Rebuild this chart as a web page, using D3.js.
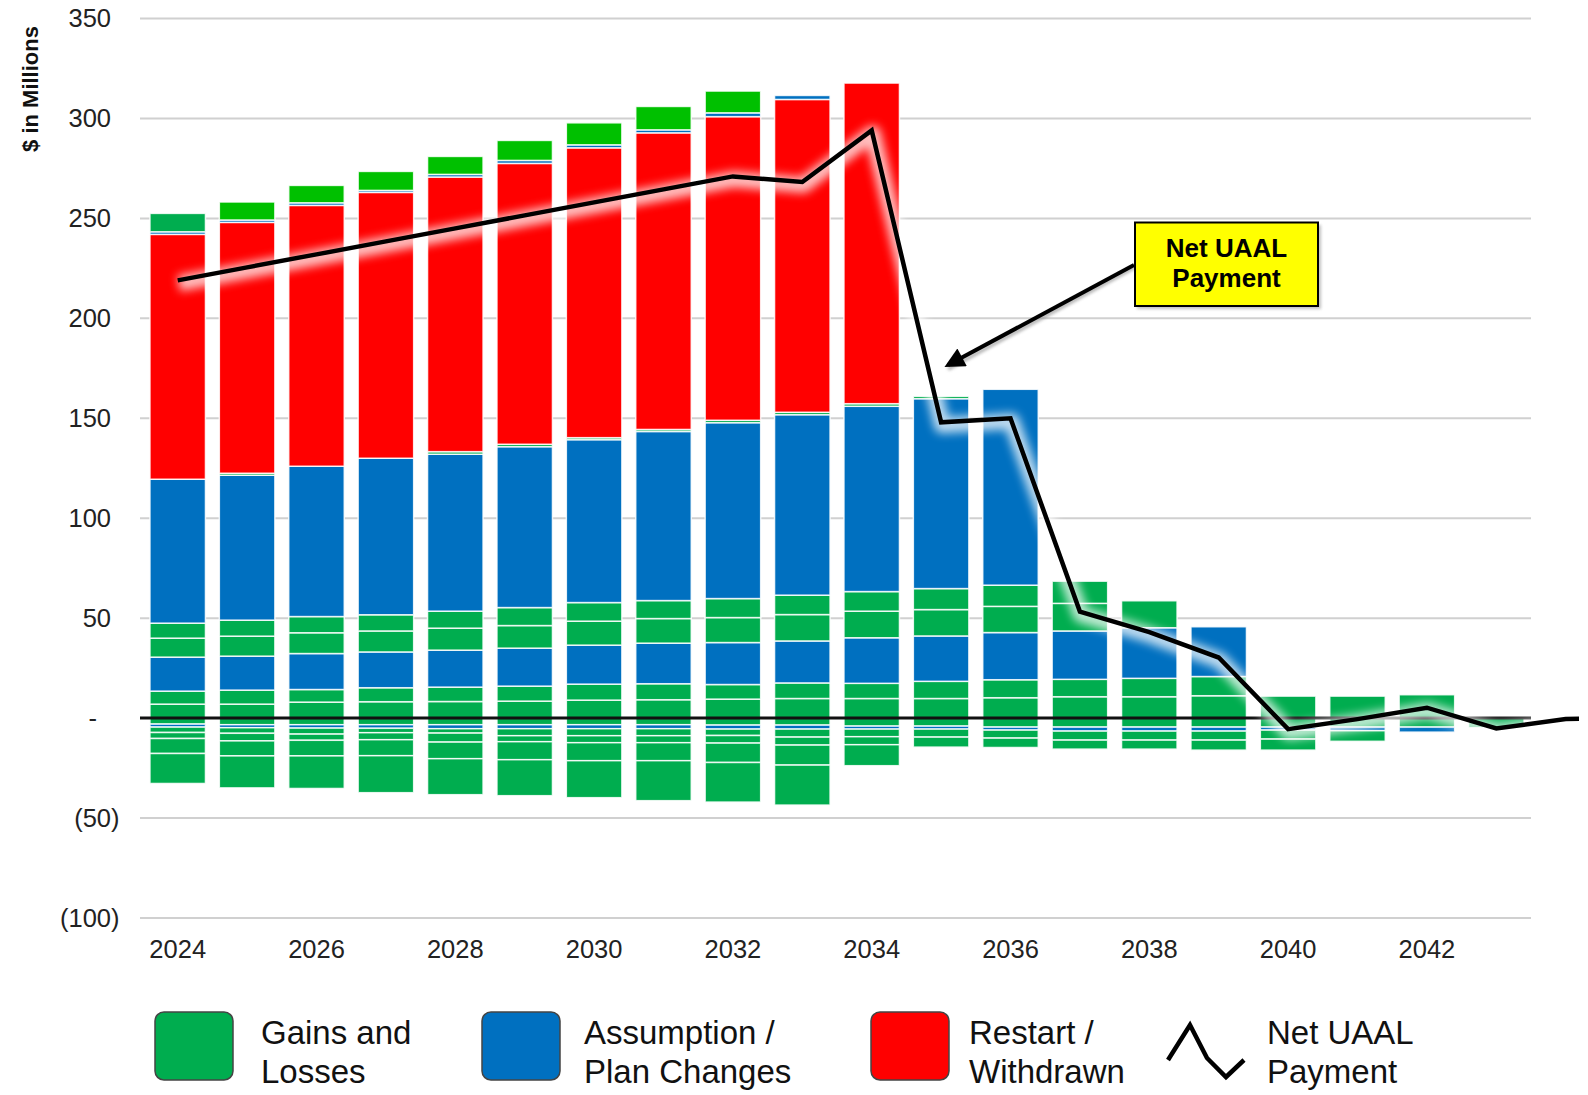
<!DOCTYPE html>
<html><head><meta charset="utf-8">
<script src="https://cdn.jsdelivr.net/npm/d3@7"></script>
<style>
body{margin:0;background:#fff;}
svg{display:block;font-family:"Liberation Sans",Arial,Helvetica,sans-serif;}
</style>
</head><body>
<svg id="chart" width="1588" height="1095"></svg>
<script>
// ---------------- DATA ----------------
const years = [2024,2025,2026,2027,2028,2029,2030,2031,2032,2033,2034,2035,2036,2037,2038,2039,2040,2041,2042,2043];
const xTickYears = [2024,2026,2028,2030,2032,2034,2036,2038,2040,2042];
const yTicks = [-100,-50,0,50,100,150,200,250,300,350];

// positive stack pieces (bottom to top)
const gainsA      = [7,7,8,8.2,8.3,8.5,9,9.2,9.5,9.8,9.8,9.8,10.2,10.7,10.7,11.2,11,11,11.7,0];
const gainsB      = [6.5,7,6.3,7,7.2,7.5,8,8,7.3,7.8,7.6,8.6,9,8.7,9.2,9.6,0,0,0,0];
const assumptionA = [17,17,18,17.9,18.5,19,19.5,20.3,21,21,22.8,22.7,23.6,24.2,25.3,24.9,0,0,0,0];
const gainsC      = [9.5,10,10.4,10.5,11,11.3,12,12.3,12.5,13.2,13.3,13.2,13.1,13.8,13.5,0,0,0,0,0];
const gainsD      = [7.5,8,8.1,8.1,8.5,9,9.3,9,9.5,9.7,9.8,10.5,10.6,11.1,0,0,0,0,0,0];
const assumptionB = [72,72.5,75.2,78.3,78.5,80.5,81.5,84.6,88,90.3,92.7,95,98,0,0,0,0,0,0,0];
const gainsE      = [0,1,0,0,1.3,1.2,1,1,1.2,1.2,1.3,1.2,0,0,0,0,0,0,0,0];
const restart     = [122.5,125.5,130.5,133,137.4,140.5,145,148.4,151.9,156.5,160.4,0,0,0,0,0,0,0,0,0];
const assumptionC = [1.3,1.2,1.3,1,1.3,1.5,1.5,1.5,1.9,2,0,0,0,0,0,0,0,0,0,0];
const gainsTopA   = [9.2,0,0,0,0,0,0,0,0,0,0,0,0,0,0,0,0,0,0,0];
const otherTop    = [0,9,8.7,9.5,9,10,11,11.7,10.9,0,0,0,0,0,0,0,0,0,0,0];

// negative stack pieces (from zero downward)
const gainsNegA      = [-3,-3.3,-3.3,-3.3,-3.3,-3.3,-3.3,-3.3,-3.5,-3.5,-4,-4,-4.5,-4.5,-4.5,-4.5,-4.5,-4.5,-4.5,-4.8];
const assumptionNeg  = [-1.5,-1.5,-1.7,-1.8,-2,-2,-2,-2,-2,-2,-1.5,-1.5,-1.5,-2,-2,-2,-1.5,-1.8,-2.5,0];
const gainsNegB      = [-2.7,-2.8,-3,-2.2,-2.2,-3.5,-3.5,-3.5,-3.2,-4,-3.8,-4,-4,-4.5,-4.5,-4.5,-4.5,-5.3,0,0];
const gainsNegC      = [-3,-3.8,-3.1,-3.5,-4.5,-3,-3.5,-3.5,-3.8,-4,-4,-5,-4.7,-4.5,-4.5,-5,-5.5,0,0,0];
const gainsNegD      = [-7.5,-7.5,-7.8,-8,-8.3,-9,-9,-9,-9.7,-10,-10.5,0,0,0,0,0,0,0,0,0];
const gainsNegE      = [-15,-16,-16.3,-18.5,-18,-18,-18.5,-20,-19.8,-20,0,0,0,0,0,0,0,0,0,0];

// net UAAL payment line
const lineYears = [2024,2025,2026,2027,2028,2029,2030,2031,2032,2033,2034,2035,2036,2037,2038,2039,2040,2041,2042,2043,2044,2045];
const netUAAL   = [219,225.5,232,238.5,245,251.5,258,264.5,271,268.2,294,148,150,53.3,43,30.3,-5.5,-0.5,5.2,-5.2,-0.4,0];

const legendLabels = [["Gains and","Losses"],["Assumption /","Plan Changes"],["Restart /","Withdrawn"],["Net UAAL","Payment"]];
const yTitle = "$ in Millions";
const calloutText = ["Net UAAL","Payment"];

// ---------------- STYLE ----------------
const C_GAIN = "#00ad4f", C_ASSUMP = "#0070c0", C_RESTART = "#ff0000", C_TOP = "#00c000";

const series = [
  {key:"gainsA", v:gainsA, c:C_GAIN},
  {key:"gainsB", v:gainsB, c:C_GAIN},
  {key:"assumptionA", v:assumptionA, c:C_ASSUMP},
  {key:"gainsC", v:gainsC, c:C_GAIN},
  {key:"gainsD", v:gainsD, c:C_GAIN},
  {key:"assumptionB", v:assumptionB, c:C_ASSUMP},
  {key:"gainsE", v:gainsE, c:C_GAIN},
  {key:"restart", v:restart, c:C_RESTART},
  {key:"assumptionC", v:assumptionC, c:C_ASSUMP},
  {key:"gainsTopA", v:gainsTopA, c:C_GAIN},
  {key:"otherTop", v:otherTop, c:C_TOP},
  {key:"gainsNegA", v:gainsNegA, c:C_GAIN},
  {key:"assumptionNeg", v:assumptionNeg, c:C_ASSUMP},
  {key:"gainsNegB", v:gainsNegB, c:C_GAIN},
  {key:"gainsNegC", v:gainsNegC, c:C_GAIN},
  {key:"gainsNegD", v:gainsNegD, c:C_GAIN},
  {key:"gainsNegE", v:gainsNegE, c:C_GAIN}
];
const table = years.map((yr,i)=>{
  const row = {year:yr};
  series.forEach(s=>row[s.key]=s.v[i]);
  return row;
});
const stacked = d3.stack().keys(series.map(s=>s.key)).offset(d3.stackOffsetDiverging)(table);
const colorOf = Object.fromEntries(series.map(s=>[s.key,s.c]));

const svg = d3.select("#chart");
const defs = svg.append("defs");
const glow = defs.append("filter").attr("id","glow").attr("x","-20%").attr("y","-20%").attr("width","140%").attr("height","140%");
glow.append("feGaussianBlur").attr("stdDeviation",5);
const soft = defs.append("filter").attr("id","soft").attr("x","-5%").attr("y","-50%").attr("width","110%").attr("height","200%");
soft.append("feGaussianBlur").attr("stdDeviation",1.5);
defs.append("clipPath").attr("id","clipR").append("rect").attr("x",0).attr("y",0).attr("width",1579).attr("height",1095);
defs.append("marker").attr("id","arrow").attr("viewBox","0 0 10 10").attr("refX",8).attr("refY",5)
  .attr("markerWidth",6).attr("markerHeight",5).attr("orient","auto").attr("markerUnits","strokeWidth")
  .append("path").attr("d","M0,0 L10,5 L0,10 Z").attr("fill","#000");

const x = d3.scaleBand().domain(years).range([143,1531]).paddingInner(0.2).paddingOuter(0.1);
const y = d3.scaleLinear().domain([-100,350]).range([918,18.5]);
const bw = x.bandwidth();
const lineX = d3.scaleLinear().domain([years[0], years[years.length-1]])
  .range([x(years[0])+bw/2, x(years[years.length-1])+bw/2]);

// gridlines
svg.append("g").selectAll("line").data(yTicks).join("line")
  .attr("x1",140).attr("x2",1531).attr("y1",d=>y(d)).attr("y2",d=>y(d))
  .attr("stroke","#d0d0d0").attr("stroke-width",2);

// y axis labels
const yAxis = svg.append("g").attr("transform","translate(111,0)")
  .call(d3.axisLeft(y).tickValues(yTicks).tickSize(0).tickPadding(0)
    .tickFormat(d=> d===0 ? "-" : d<0 ? "("+Math.abs(d)+")" : String(d)));
yAxis.select(".domain").remove();
yAxis.selectAll("text").attr("font-size",25.5).attr("fill","#222")
  .attr("font-family","'Liberation Sans',Arial,sans-serif")
  .attr("dx",d=> d<0 ? 8.5 : d===0 ? -14 : 0);

// bars
const gBars = svg.append("g");
stacked.forEach(layer=>{
  gBars.append("g").attr("fill",colorOf[layer.key])
    .selectAll("rect").data(layer.filter(d=>Math.abs(d[1]-d[0])>0)).join("rect")
    .attr("x",d=>x(d.data.year)).attr("width",bw)
    .attr("y",d=>y(Math.max(d[0],d[1])))
    .attr("height",d=>Math.abs(y(d[0])-y(d[1])))
    .attr("stroke","rgba(255,255,255,0.85)").attr("stroke-width",1.5);
});

// x axis labels
const xAxis = svg.append("g").attr("transform","translate(0,937)")
  .call(d3.axisBottom(x).tickValues(xTickYears).tickSize(0).tickFormat(d=>String(d)));
xAxis.select(".domain").remove();
xAxis.selectAll("text").attr("font-size",25.5).attr("fill","#222")
  .attr("font-family","'Liberation Sans',Arial,sans-serif");

// zero line
svg.append("line").attr("x1",140).attr("x2",1531).attr("y1",y(0)+1).attr("y2",y(0)+1)
  .attr("stroke","#777").attr("stroke-width",4).attr("filter","url(#soft)").attr("opacity",0.7);
svg.append("line").attr("x1",140).attr("x2",1531).attr("y1",y(0)).attr("y2",y(0))
  .attr("stroke","#111").attr("stroke-width",3);

// net UAAL line
const lineGen = d3.line().x((d,i)=>lineX(lineYears[i])).y(d=>y(d));
const gLine = svg.append("g").attr("clip-path","url(#clipR)");
gLine.append("path").datum(netUAAL).attr("d",lineGen)
  .attr("fill","none").attr("stroke","#fff").attr("stroke-width",16).attr("stroke-linejoin","round")
  .attr("opacity",0.75).attr("filter","url(#glow)").attr("transform","translate(1,3)");
gLine.append("path").datum(netUAAL).attr("d",lineGen)
  .attr("fill","none").attr("stroke","#000").attr("stroke-width",4.5).attr("stroke-linejoin","miter");

// callout arrow
svg.append("line").attr("x1",1135).attr("y1",267).attr("x2",948).attr("y2",369)
  .attr("stroke","#888").attr("stroke-width",4).attr("filter","url(#soft)").attr("opacity",0.6);
svg.append("line").attr("x1",1134).attr("y1",265).attr("x2",948).attr("y2",365)
  .attr("stroke","#000").attr("stroke-width",4).attr("marker-end","url(#arrow)");

// callout box
svg.append("rect").attr("x",1137).attr("y",225).attr("width",184).attr("height",84)
  .attr("fill","#999").attr("filter","url(#soft)").attr("opacity",0.6);
svg.append("rect").attr("x",1135).attr("y",222.5).attr("width",183).attr("height",83.5)
  .attr("fill","#ffff00").attr("stroke","#000").attr("stroke-width",2);
svg.append("g").selectAll("text").data(calloutText).join("text")
  .attr("x",1226.5).attr("y",(d,i)=>257+i*29.5).attr("text-anchor","middle")
  .attr("font-size",26).attr("font-weight","bold").attr("fill","#000").text(d=>d);

// y title
svg.append("text").attr("transform","translate(38,89) rotate(-90)").attr("text-anchor","middle")
  .attr("font-size",22).attr("font-weight","bold").attr("fill","#111").text(yTitle);

// legend
const legendX = [155,482,871,1167];
const legendTextX = [261,584,969,1267];
const legendColors = [C_GAIN,C_ASSUMP,C_RESTART,null];
const gLeg = svg.append("g");
legendLabels.forEach((lab,i)=>{
  if(legendColors[i]){
    gLeg.append("rect").attr("x",legendX[i]).attr("y",1012).attr("width",78).attr("height",68)
      .attr("rx",9).attr("fill",legendColors[i]).attr("stroke","#444").attr("stroke-width",1.5);
  } else {
    gLeg.append("path").attr("d",d3.line()([[1168,1060],[1190,1025],[1207,1058],[1226,1077],[1244,1060]]))
      .attr("fill","none").attr("stroke","#000").attr("stroke-width",4.5).attr("stroke-linejoin","miter");
  }
  gLeg.append("g").selectAll("text").data(lab).join("text")
    .attr("x",legendTextX[i]).attr("y",(d,j)=>1044+j*38.5)
    .attr("font-size",33).attr("fill","#111").text(d=>d);
});
</script>
</body></html>
